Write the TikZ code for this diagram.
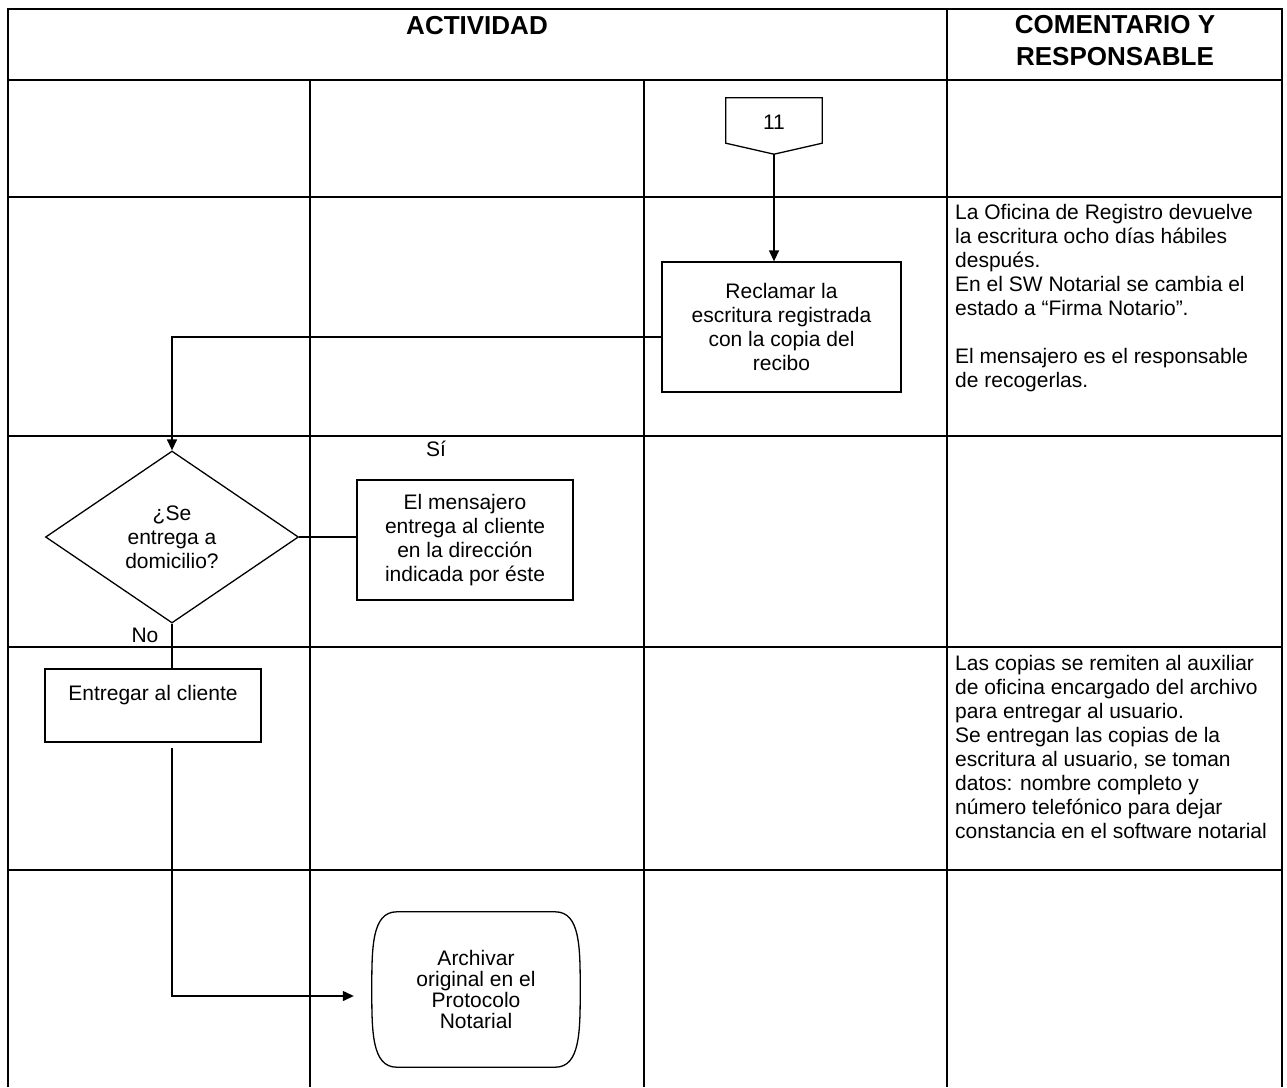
\documentclass[tikz,border=0pt]{standalone}
\usepackage{fontspec}
\setmainfont{Liberation Sans}
\usetikzlibrary{arrows.meta,shapes.geometric,calc}
\begin{document}
\begin{tikzpicture}[x=1pt,y=-1pt,
  grid/.style={line width=1.7pt},
  outer/.style={line width=2.4pt},
  box/.style={draw,line width=1.3pt,align=center,inner sep=0pt,font=\fontsize{21}{24}\selectfont},
  txt/.style={align=left,inner sep=0pt,font=\fontsize{21}{24}\selectfont},
  conn/.style={line width=1.3pt},
  arr/.style={conn,-{Triangle[length=11pt,width=10pt]}},
  hdr/.style={font=\fontsize{26}{32}\selectfont\bfseries,align=center,inner sep=0pt}]
\useasboundingbox (0,0) rectangle (1287,1087);
% table grid
\draw[outer] (8,1087) -- (8,9) -- (1282,9) -- (1282,1087);
\draw[grid] (8,80) -- (1282,80);
\foreach \y in {197,436,647,870} \draw[grid] (8,\y) -- (1282,\y);
\draw[grid] (947,9) -- (947,1087);
\foreach \x in {310,644} \draw[grid] (\x,80) -- (\x,1087);
% headers
\node[hdr] (hact) at (477,26) {ACTIVIDAD};
\node[hdr] (hcom) at (1115,41) {COMENTARIO Y\\RESPONSABLE};
% off-page connector 11
\node[inner sep=0pt,minimum width=96pt,minimum height=48pt,font=\fontsize{21}{24}\selectfont] (c11) at (774,122) {11};
\draw[conn] (c11.north west) -- (c11.north east) -- ([yshift=3pt]c11.south east) -- ([yshift=-8pt]c11.south) -- ([yshift=3pt]c11.south west) -- cycle;
\coordinate (c11tip) at ([yshift=-8pt]c11.south);
% process boxes
\node[box,minimum width=239pt,minimum height=130pt] (recl) at (781.5,327) {Reclamar la\\escritura registrada\\con la copia del\\recibo};
\node[box,diamond,aspect=1.47,minimum width=253pt,minimum height=172pt] (dia) at (172,537) {¿Se\\entrega a\\domicilio?};
\node[box,minimum width=216pt,minimum height=120pt] (msj) at (465,540) {El mensajero\\entrega al cliente\\en la dirección\\indicada por éste};
\node[box,minimum width=216pt,minimum height=73pt,text depth=25pt] (entr) at (153,705.5) {Entregar al cliente};
\node[inner sep=0pt,minimum width=208pt,minimum height=155pt,align=center,font=\fontsize{21}{21}\selectfont] (arch) at (476,989.5) {Archivar\\original en el\\Protocolo\\Notarial};
\draw[conn] ([xshift=25pt]arch.north west) -- ([xshift=-25pt]arch.north east)
  .. controls (arch.north east) and ([yshift=42pt]arch.east) .. (arch.east)
  .. controls ([yshift=-42pt]arch.east) and (arch.south east) .. ([xshift=-25pt]arch.south east)
  -- ([xshift=25pt]arch.south west)
  .. controls (arch.south west) and ([yshift=-42pt]arch.west) .. (arch.west)
  .. controls ([yshift=42pt]arch.west) and (arch.north west) .. ([xshift=25pt]arch.north west) -- cycle;
% labels
\node[txt] (si) at (436,449) {Sí};
\node[txt] (no) at (145,635) {No};
% connectors
\draw[arr] (c11tip) -- (c11tip |- recl.north);
\draw[arr] ([yshift=-10pt]recl.west) -| (dia.north);
\draw[conn] (dia.east) -- (dia.east -| msj.west);
\draw[conn] (dia.south) -- (dia.south |- entr.north);
\draw[arr,shorten >=18pt] ($(dia.south |- entr.south)+(0,5)$) |- ([yshift=-6.5pt]arch.west);
% comments
\node[txt,anchor=north west] (com1) at (955,204) {La Oficina de Registro devuelve\\la escritura ocho días hábiles\\después.\\En el SW Notarial se cambia el\\estado a “Firma Notario”.\\[24pt]El mensajero es el responsable\\de recogerlas.};
\node[txt,anchor=north west] (com2) at (955,655) {Las copias se remiten al auxiliar\\de oficina encargado del archivo\\para entregar al usuario.\\Se entregan las copias de la\\escritura al usuario, se toman\\datos: nombre completo y\\número telefónico para dejar\\constancia en el software notarial};
\end{tikzpicture}
\end{document}
